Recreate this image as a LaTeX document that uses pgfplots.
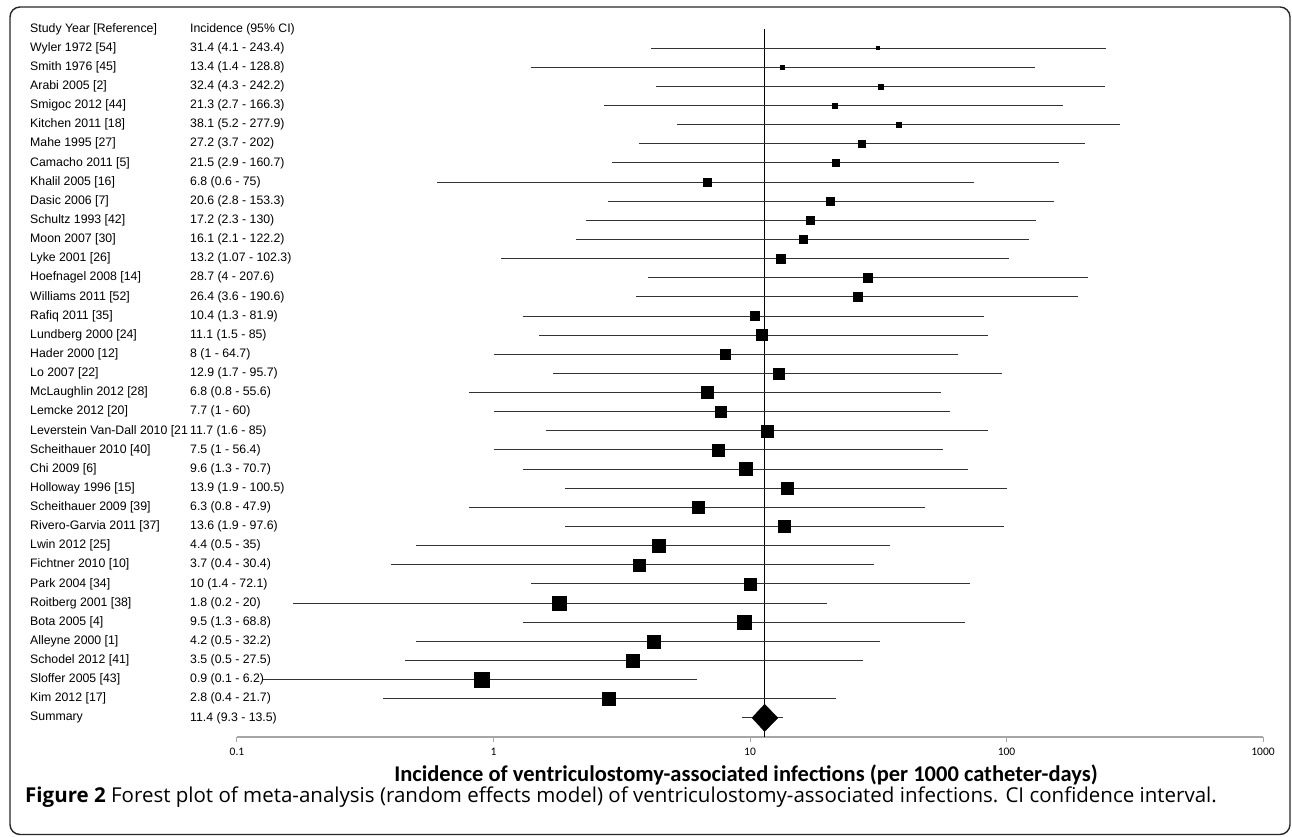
\documentclass[border=0pt]{standalone}
\usepackage{pgfplots}
\usepackage{pgfplotstable}
\pgfplotsset{compat=1.18}
\usepackage{fontspec}
\setmainfont{Liberation Sans}
\newfontfamily\calibri{Carlito}
\newfontfamily\capfont{Open Sans}

% name, label, estimate, lower, upper (drawn), half size of square
\pgfplotstableread[col sep=comma]{
name,ci,est,lo,hi,sz
Wyler 1972 [54],31.4 (4.1 - 243.4),31.4,4.1,243.4,1.5
Smith 1976 [45],13.4 (1.4 - 128.8),13.4,1.4,128.8,2
Arabi 2005 [2],32.4 (4.3 - 242.2),32.4,4.3,242.2,2.5
Smigoc 2012 [44],21.3 (2.7 - 166.3),21.3,2.7,166.3,2.5
Kitchen 2011 [18],38.1 (5.2 - 277.9),38.1,5.2,277.9,2.5
Mahe 1995 [27],27.2 (3.7 - 202),27.2,3.7,202,3.5
Camacho 2011 [5],21.5 (2.9 - 160.7),21.5,2.9,160.7,3.5
Khalil 2005 [16],6.8 (0.6 - 75),6.8,0.6,75,4
Dasic 2006 [7],20.6 (2.8 - 153.3),20.6,2.8,153.3,4
Schultz 1993 [42],17.2 (2.3 - 130),17.2,2.3,130,4
Moon 2007 [30],16.1 (2.1 - 122.2),16.1,2.1,122.2,4
Lyke 2001 [26],13.2 (1.07 - 102.3),13.2,1.07,102.3,4.5
Hoefnagel 2008 [14],28.7 (4 - 207.6),28.7,4,207.6,4.5
Williams 2011 [52],26.4 (3.6 - 190.6),26.4,3.6,190.6,4.5
Rafiq 2011 [35],10.4 (1.3 - 81.9),10.4,1.3,81.9,4.5
Lundberg 2000 [24],11.1 (1.5 - 85),11.1,1.5,85,5.5
Hader 2000 [12],8 (1 - 64.7),8,1,64.7,5
Lo 2007 [22],12.9 (1.7 - 95.7),12.9,1.7,95.7,5.5
McLaughlin 2012 [28],6.8 (0.8 - 55.6),6.8,0.8,55.6,6
Lemcke 2012 [20],7.7 (1 - 60),7.7,1,60,5.5
Leverstein Van-Dall 2010 [21,11.7 (1.6 - 85),11.7,1.6,85,6
Scheithauer 2010 [40],7.5 (1 - 56.4),7.5,1,56.4,6
Chi 2009 [6],9.6 (1.3 - 70.7),9.6,1.3,70.7,6.5
Holloway 1996 [15],13.9 (1.9 - 100.5),13.9,1.9,100.5,6
Scheithauer 2009 [39],6.3 (0.8 - 47.9),6.3,0.8,47.9,6
Rivero-Garvia 2011 [37],13.6 (1.9 - 97.6),13.6,1.9,97.6,6
Lwin 2012 [25],4.4 (0.5 - 35),4.4,0.5,35,6.5
Fichtner 2010 [10],3.7 (0.4 - 30.4),3.7,0.4,30.4,6
Park 2004 [34],10 (1.4 - 72.1),10,1.4,72.1,6
Roitberg 2001 [38],1.8 (0.2 - 20),1.8,0.165,20,7
Bota 2005 [4],9.5 (1.3 - 68.8),9.5,1.3,68.8,7
Alleyne 2000 [1],4.2 (0.5 - 32.2),4.2,0.5,32.2,6.5
Schodel 2012 [41],3.5 (0.5 - 27.5),3.5,0.45,27.5,6.5
Sloffer 2005 [43],0.9 (0.1 - 6.2),0.9,0.125,6.2,7.5
Kim 2012 [17],2.8 (0.4 - 21.7),2.8,0.37,21.7,6.5
}\studies

\begin{document}
\begin{tikzpicture}[x=1pt,y=1pt]
\path[use as bounding box] (0,0) rectangle (1292,837);
\draw[line width=1.4pt, black!85, rounded corners=10pt] (10,2.5) rectangle (1290,830);
\begin{axis}[
  at={(237pt,100pt)}, anchor=south west,
  scale only axis, width=1026pt, height=708pt,
  xmode=log, xmin=0.1, xmax=1000,
  ymin=-37, ymax=0,
  axis x line*=bottom, axis y line=none,
  x axis line style={draw=black!35, line width=1.5pt},
  xtick={0.1,1,10,100,1000},
  xticklabels={0.1,1,10,100,1000},
  xminorticks=false,
  xtick style={draw=black!35, line width=1pt},
  major tick length=5pt, tick align=outside,
  xticklabel style={font=\calibri\fontsize{11.5}{12}\selectfont, yshift=-3pt},
  clip=false,
]
% line of the pooled estimate
\addplot[black, line width=1.2pt] coordinates {(11.4,0) (11.4,-37)};
% confidence intervals and squares
\addplot[draw=none, mark=none,
  error bars/.cd, x dir=both, x explicit, error mark=none,
  error bar style={draw=black!80, line width=1pt}]
  table[x=est, y expr=-\coordindex-1,
        x error plus expr=\thisrow{hi}-\thisrow{est},
        x error minus expr=\thisrow{est}-\thisrow{lo}] {\studies};
\addplot[scatter, only marks, mark=square*, point meta=0,
  scatter/use mapped color={draw=black, fill=black},
  visualization depends on={\thisrow{sz} \as \msz},
  scatter/@pre marker code/.append style={/tikz/mark size=\msz}]
  table[x=est, y expr=-\coordindex-1] {\studies};
% summary
\addplot[black!80, line width=1pt] coordinates {(9.3,-36) (13.5,-36)};
\addplot[fill=black, draw=black] coordinates {(10.18,-36) (11.4,-35.29) (12.85,-36) (11.4,-36.71)} -- cycle;
% text columns
\addplot[draw=none, mark=none, point meta=explicit symbolic, nodes near coords,
  every node near coord/.append style={anchor=west, inner sep=0pt, font=\fontsize{12.3}{14}\selectfont}]
  table[x expr=0.0156, y expr=-\coordindex-1, meta=name] {\studies};
\addplot[draw=none, mark=none, point meta=explicit symbolic, nodes near coords,
  every node near coord/.append style={anchor=west, inner sep=0pt, font=\fontsize{12.3}{14}\selectfont}]
  table[x expr=0.0656, y expr=-\coordindex-1, meta=ci] {\studies};
\node[anchor=west, inner sep=0pt, font=\fontsize{12.3}{14}\selectfont] at (axis cs:0.0156,0) {Study Year [Reference]};
\node[anchor=west, inner sep=0pt, font=\fontsize{12.3}{14}\selectfont] at (axis cs:0.0656,0) {Incidence (95\% CI)};
\node[anchor=west, inner sep=0pt, font=\fontsize{12.3}{14}\selectfont] at (axis cs:0.0156,-36) {Summary};
\node[anchor=west, inner sep=0pt, font=\fontsize{12.3}{14}\selectfont] at (axis cs:0.0656,-36) {11.4 (9.3 - 13.5)};
\end{axis}
\node[font=\calibri\bfseries\fontsize{22.5}{26}\selectfont] at (746,62) {Incidence of ventriculostomy-associated infections (per 1000 catheter-days)};
\node[anchor=west, inner sep=0pt, font=\capfont\fontsize{20.5}{24}\selectfont] at (25,40) {\textbf{Figure 2} Forest plot of meta-analysis (random effects model) of ventriculostomy-associated infections. CI confidence interval.};
\end{tikzpicture}
\end{document}
